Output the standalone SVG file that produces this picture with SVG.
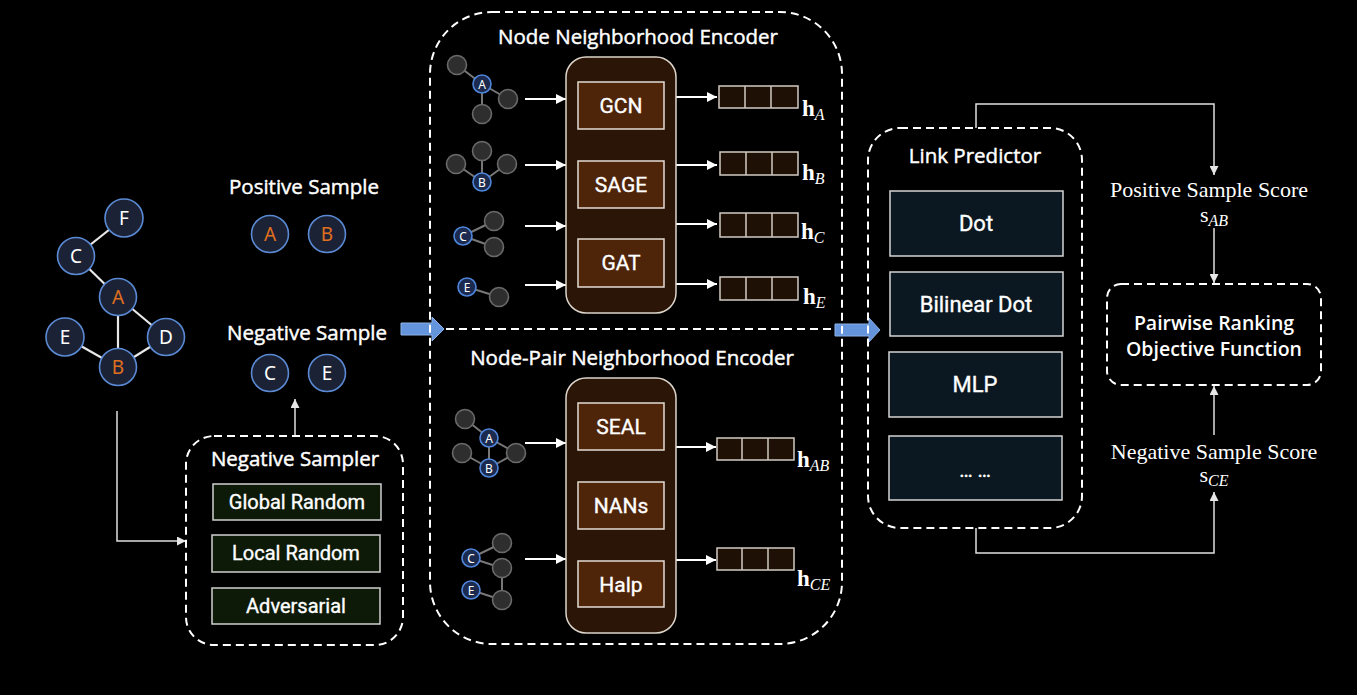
<svg xmlns="http://www.w3.org/2000/svg" width="1357" height="695" viewBox="0 0 1357 695">
<defs>
<marker id="ah" viewBox="0 0 10 10" refX="10" refY="5" markerWidth="10" markerHeight="10" markerUnits="userSpaceOnUse" orient="auto"><path d="M0,0 L10,5 L0,10 Z" fill="#ffffff"/></marker>
<marker id="ahs" viewBox="0 0 10 10" refX="10" refY="5" markerWidth="9" markerHeight="9" markerUnits="userSpaceOnUse" orient="auto"><path d="M0,0 L10,5 L0,10 Z" fill="#e6e6e6"/></marker>
<style>
.dash{fill:none;stroke:#ffffff;stroke-width:2;stroke-dasharray:8 5}
.gn{fill:#1b2236;stroke:#5b8ad4;stroke-width:1.6}
.ge{stroke:#e8e8e8;stroke-width:2.2}
.gt{font-family:"Noto Sans",sans-serif;font-size:19px;fill:#ffffff;text-anchor:middle;dominant-baseline:central}
.org{fill:#e0701e}
.title{font-family:"Open Sans","Noto Sans",sans-serif;font-size:20.5px;font-weight:400;fill:#ffffff;stroke:#ffffff;stroke-width:0.45;text-anchor:middle;dominant-baseline:central}
.bold{font-weight:600;stroke-width:0}
.lbl{font-family:Roboto,sans-serif;font-size:20px;font-weight:400;fill:#ffffff;stroke:#ffffff;stroke-width:0.35;text-anchor:middle;dominant-baseline:central}
.samp{fill:#0e1a08;stroke:#cfcfcf;stroke-width:1.5}
.outer{fill:#2a1506;stroke:#ddd5cc;stroke-width:1.5}
.mod{fill:#4f250a;stroke:#e4dcd4;stroke-width:1.5}
.vec{fill:#1e1005;stroke:#d2cac2;stroke-width:1.5}
.lp{fill:#0c1821;stroke:#d4d4d4;stroke-width:1.5}
.sg{fill:#2e2e2e;stroke:#6a6a6a;stroke-width:1.6}
.sl{fill:#1b2a4e;stroke:#4f86dc;stroke-width:1.6}
.st{font-family:"Noto Sans",sans-serif;font-size:12px;fill:#ffffff;text-anchor:middle;dominant-baseline:central}
.se{stroke:#777777;stroke-width:2}
.arr{stroke:#ffffff;stroke-width:2;fill:none;marker-end:url(#ah)}
.thin{stroke:#e0e0e0;stroke-width:1.5;fill:none;marker-end:url(#ahs)}
.h{font-family:"Liberation Serif",serif;font-size:23px;font-weight:bold;fill:#ffffff}
.sub{font-style:italic;font-weight:normal;font-size:16px}
.serif{font-family:"Liberation Serif",serif;font-size:22px;fill:#ffffff;text-anchor:middle}
.blue{fill:#6394dc;stroke:#8db2ea;stroke-width:1}
</style>
</defs>
<rect x="0" y="0" width="1357" height="695" fill="#000000"/>

<g id="connectors">
<line class="ge" x1="124" y1="218" x2="76" y2="256"/>
<line class="ge" x1="76" y1="256" x2="118" y2="297"/>
<line class="ge" x1="118" y1="297" x2="118" y2="367"/>
<line class="ge" x1="118" y1="297" x2="166" y2="337"/>
<line class="ge" x1="65" y1="337" x2="118" y2="367"/>
<line class="ge" x1="118" y1="367" x2="166" y2="337"/>
<path class="thin" d="M117,411 V541 H186"/>
<path class="thin" d="M295,436 V399"/>
<line class="dash" x1="446" y1="329" x2="834" y2="329"/>
<polygon class="blue" points="401,323 432,323 432,317 444,329 432,341 432,335 401,335"/>
<polygon class="blue" points="835,324 869,324 869,318 880,330 869,342 869,336 835,336"/>
<path class="thin" d="M976,128 V104 H1214 V175"/>
<path class="thin" d="M1214,228 V283"/>
<path class="thin" d="M1214,435 V386"/>
<path class="thin" d="M976,528 V553 H1214 V492"/>
<line class="arr" x1="525" y1="99" x2="566" y2="99"/>
<line class="arr" x1="525" y1="165" x2="566" y2="165"/>
<line class="arr" x1="525" y1="226" x2="566" y2="226"/>
<line class="arr" x1="525" y1="285" x2="566" y2="285"/>
<line class="arr" x1="676" y1="97" x2="717" y2="97"/>
<line class="arr" x1="676" y1="165" x2="717" y2="165"/>
<line class="arr" x1="676" y1="224" x2="717" y2="224"/>
<line class="arr" x1="676" y1="284" x2="717" y2="284"/>
<line class="arr" x1="525" y1="443" x2="566" y2="443"/>
<line class="arr" x1="525" y1="559" x2="566" y2="559"/>
<line class="arr" x1="676" y1="447" x2="716" y2="447"/>
<line class="arr" x1="676" y1="560" x2="716" y2="560"/>
</g>

<g id="graph">
<circle class="gn" cx="124" cy="218" r="19"/><text class="gt" x="124" y="218">F</text>
<circle class="gn" cx="76" cy="256" r="18.5"/><text class="gt" x="76" y="256">C</text>
<circle class="gn" cx="118" cy="297" r="18.5"/><text class="gt org" x="118" y="297">A</text>
<circle class="gn" cx="65" cy="337" r="19"/><text class="gt" x="65" y="337">E</text>
<circle class="gn" cx="166" cy="337" r="18.5"/><text class="gt" x="166" y="337">D</text>
<circle class="gn" cx="118" cy="367" r="18.5"/><text class="gt org" x="118" y="367">B</text>
</g>

<g id="positive-sample">
<text class="title" x="304" y="186">Positive Sample</text>
<circle class="gn" cx="270" cy="234" r="18.5"/><text class="gt org" x="270" y="234">A</text>
<circle class="gn" cx="327" cy="234" r="18.5"/><text class="gt org" x="327" y="234">B</text>
</g>

<g id="negative-sample">
<text class="title" x="307" y="332">Negative Sample</text>
<circle class="gn" cx="270" cy="373" r="18.5"/><text class="gt" x="270" y="373">C</text>
<circle class="gn" cx="327" cy="373" r="18.5"/><text class="gt" x="327" y="373">E</text>
</g>

<g id="negative-sampler">
<rect class="dash" x="186" y="436" width="217" height="209" rx="28"/>
<text class="title" x="295" y="458">Negative Sampler</text>
<rect class="samp" x="213" y="484" width="168" height="36"/>
<text class="lbl" x="297" y="502">Global Random</text>
<rect class="samp" x="212" y="535" width="168" height="37"/>
<text class="lbl" x="296" y="553">Local Random</text>
<rect class="samp" x="212" y="588" width="168" height="36"/>
<text class="lbl" x="296" y="606">Adversarial</text>
</g>

<g id="encoder">
<rect class="dash" x="430" y="12" width="412" height="632" rx="62"/>
</g>

<g id="node-encoder">
<text class="title" x="638" y="36">Node Neighborhood Encoder</text>
<line class="se" x1="482" y1="84" x2="457" y2="65"/><line class="se" x1="482" y1="84" x2="508" y2="99"/><line class="se" x1="482" y1="84" x2="482" y2="114"/>
<circle class="sg" cx="457" cy="65" r="9.5"/><circle class="sg" cx="508" cy="99" r="9.5"/><circle class="sg" cx="482" cy="114" r="9.5"/>
<circle class="sl" cx="482" cy="84" r="9"/><text class="st" x="482" y="84">A</text>
<line class="se" x1="482" y1="182" x2="482" y2="151"/><line class="se" x1="482" y1="182" x2="456" y2="164"/><line class="se" x1="482" y1="182" x2="507" y2="164"/>
<circle class="sg" cx="482" cy="151" r="9.5"/><circle class="sg" cx="456" cy="164" r="9.5"/><circle class="sg" cx="507" cy="164" r="9.5"/>
<circle class="sl" cx="482" cy="182" r="9"/><text class="st" x="482" y="182">B</text>
<line class="se" x1="463" y1="236" x2="494" y2="221"/><line class="se" x1="463" y1="236" x2="494" y2="247"/>
<circle class="sg" cx="494" cy="221" r="9.5"/><circle class="sg" cx="494" cy="247" r="9.5"/>
<circle class="sl" cx="463" cy="236" r="9"/><text class="st" x="463" y="236">C</text>
<line class="se" x1="467" y1="287" x2="499" y2="297"/>
<circle class="sg" cx="499" cy="297" r="9.5"/>
<circle class="sl" cx="467" cy="287" r="9"/><text class="st" x="467" y="287">E</text>
<rect class="outer" x="566" y="57" width="110" height="256" rx="20"/>
<rect class="mod" x="578" y="82" width="86" height="47"/><text class="lbl" x="621" y="106" style="font-size:21px">GCN</text>
<rect class="mod" x="578" y="161" width="86" height="47"/><text class="lbl" x="621" y="185" style="font-size:21px">SAGE</text>
<rect class="mod" x="578" y="239" width="86" height="48"/><text class="lbl" x="621" y="263" style="font-size:21px">GAT</text>
<rect class="vec" x="719" y="86" width="79" height="22"/><line class="vec" x1="745" y1="86" x2="745" y2="108"/><line class="vec" x1="771" y1="86" x2="771" y2="108"/>
<rect class="vec" x="720" y="152" width="78" height="23"/><line class="vec" x1="746" y1="152" x2="746" y2="175"/><line class="vec" x1="772" y1="152" x2="772" y2="175"/>
<rect class="vec" x="720" y="213" width="78" height="24"/><line class="vec" x1="746" y1="213" x2="746" y2="237"/><line class="vec" x1="772" y1="213" x2="772" y2="237"/>
<rect class="vec" x="720" y="277" width="78" height="23"/><line class="vec" x1="746" y1="277" x2="746" y2="300"/><line class="vec" x1="772" y1="277" x2="772" y2="300"/>
<text class="h" x="802" y="116">h<tspan class="sub" dy="4">A</tspan></text>
<text class="h" x="802" y="180">h<tspan class="sub" dy="4">B</tspan></text>
<text class="h" x="801" y="239">h<tspan class="sub" dy="4">C</tspan></text>
<text class="h" x="803" y="304">h<tspan class="sub" dy="4">E</tspan></text>
</g>

<g id="pair-encoder">
<text class="title" x="632" y="357">Node-Pair Neighborhood Encoder</text>
<line class="se" x1="465" y1="419" x2="489" y2="438"/><line class="se" x1="489" y1="438" x2="489" y2="468"/><line class="se" x1="489" y1="438" x2="516" y2="453"/><line class="se" x1="489" y1="468" x2="516" y2="453"/><line class="se" x1="462" y1="453" x2="489" y2="468"/>
<circle class="sg" cx="465" cy="419" r="9.5"/><circle class="sg" cx="462" cy="453" r="9.5"/><circle class="sg" cx="516" cy="453" r="9.5"/>
<circle class="sl" cx="489" cy="438" r="9"/><text class="st" x="489" y="438">A</text>
<circle class="sl" cx="489" cy="468" r="9"/><text class="st" x="489" y="468">B</text>
<line class="se" x1="471" y1="558" x2="502" y2="543"/><line class="se" x1="471" y1="558" x2="502" y2="568"/><line class="se" x1="502" y1="568" x2="502" y2="600"/><line class="se" x1="471" y1="590" x2="502" y2="600"/>
<circle class="sg" cx="502" cy="543" r="9.5"/><circle class="sg" cx="502" cy="568" r="9.5"/><circle class="sg" cx="502" cy="600" r="9.5"/>
<circle class="sl" cx="471" cy="558" r="9"/><text class="st" x="471" y="558">C</text>
<circle class="sl" cx="471" cy="590" r="9"/><text class="st" x="471" y="590">E</text>
<rect class="outer" x="566" y="378" width="110" height="255" rx="20"/>
<rect class="mod" x="578" y="403" width="86" height="47"/><text class="lbl" x="621" y="427" style="font-size:21px">SEAL</text>
<rect class="mod" x="578" y="482" width="86" height="47"/><text class="lbl" x="621" y="506" style="font-size:21px">NANs</text>
<rect class="mod" x="578" y="561" width="86" height="46"/><text class="lbl" x="621" y="585" style="font-size:21px">Halp</text>
<rect class="vec" x="717" y="438" width="77" height="22"/><line class="vec" x1="742" y1="438" x2="742" y2="460"/><line class="vec" x1="768" y1="438" x2="768" y2="460"/>
<rect class="vec" x="717" y="548" width="77" height="22"/><line class="vec" x1="742" y1="548" x2="742" y2="570"/><line class="vec" x1="768" y1="548" x2="768" y2="570"/>
<text class="h" x="797" y="467">h<tspan class="sub" dy="4">AB</tspan></text>
<text class="h" x="797" y="586">h<tspan class="sub" dy="4">CE</tspan></text>
</g>

<g id="link-predictor">
<rect class="dash" x="868" y="128" width="214" height="400" rx="32"/>
<text class="title" x="975" y="155">Link Predictor</text>
<rect class="lp" x="890" y="191" width="173" height="65"/><text class="lbl" x="976" y="223" style="font-size:22px">Dot</text>
<rect class="lp" x="890" y="272" width="173" height="64"/><text class="lbl" x="976" y="304" style="font-size:22px">Bilinear Dot</text>
<rect class="lp" x="889" y="352" width="173" height="65"/><text class="lbl" x="975" y="384" style="font-size:22px">MLP</text>
<rect class="lp" x="889" y="436" width="173" height="64"/><text class="lbl" x="975" y="470" style="font-size:20px">… …</text>
</g>

<g id="positive-score">
<text class="serif" x="1209" y="197">Positive Sample Score</text>
<text class="serif" x="1214" y="222">s<tspan class="sub" dy="4">AB</tspan></text>
</g>

<g id="objective">
<rect class="dash" x="1107" y="284" width="214" height="101" rx="14"/>
<text class="title bold" x="1214" y="322" style="font-size:19.5px">Pairwise Ranking</text>
<text class="title bold" x="1214" y="348" style="font-size:19.5px">Objective Function</text>
</g>

<g id="negative-score">
<text class="serif" x="1214" y="459">Negative Sample Score</text>
<text class="serif" x="1214" y="482">s<tspan class="sub" dy="4">CE</tspan></text>
</g>
</svg>
